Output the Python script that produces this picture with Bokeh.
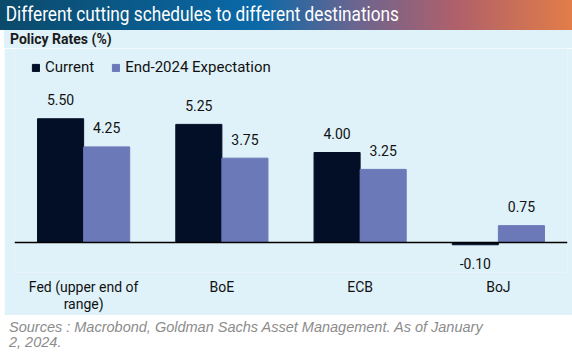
from bokeh.plotting import figure
from bokeh.models import (Div, ColumnDataSource, FactorRange, Span,
                          LabelSet, Legend, LegendItem, Range1d)
from bokeh.core.properties import value
from bokeh.layouts import column
from bokeh.transform import dodge
from bokeh.embed import file_html
from bokeh.resources import INLINE

# ---- data ----
categories = ["Fed (upper end of\nrange)", "BoE", "ECB", "BoJ"]
current = [5.50, 5.25, 4.00, -0.10]
expectation = [4.25, 3.75, 3.25, 0.75]
series_names = ["Current", "End-2024 Expectation"]

NAVY = "#030f27"
BLUE = "#6b79b9"
PANEL = "#dff2fa"
FONT = "Roboto"

src = ColumnDataSource(dict(
    cat=categories,
    current=current,
    expectation=expectation,
    cur_txt=[f"{v:.2f}" for v in current],
    exp_txt=[f"{v:.2f}" for v in expectation],
    cur_off=[19 if v >= 0 else -19 for v in current],
    exp_off=[19 if v >= 0 else -19 for v in expectation],
))

PX_PER_UNIT = 22.5
y_top = 194 / PX_PER_UNIT
y_bot = -30 / PX_PER_UNIT

p = figure(x_range=FactorRange(*categories), y_range=Range1d(y_bot, y_top),
           width=568, height=267, output_backend="svg", toolbar_location=None,
           min_border_left=10, min_border_right=5, min_border_top=0,
           min_border_bottom=43, background_fill_color=PANEL,
           border_fill_color=PANEL, outline_line_color=None,
           margin=(0, 0, 0, 4))

r1 = p.vbar(x=dodge("cat", -1/6, range=p.x_range), top="current", width=1/3,
            source=src, fill_color=NAVY, line_color=NAVY)
r2 = p.vbar(x=dodge("cat", 1/6, range=p.x_range), top="expectation", width=1/3,
            source=src, fill_color=BLUE, line_color=BLUE)

for col, txt, off in (("current", "cur_txt", "cur_off"),
                      ("expectation", "exp_txt", "exp_off")):
    shift = -1/6 if col == "current" else 1/6
    p.add_layout(LabelSet(x=dodge("cat", shift, range=p.x_range), y=col,
                          text=txt, y_offset=off, source=src,
                          text_align="center", text_baseline="middle",
                          text_font=value(FONT), text_font_size=value("14px"),
                          text_color="#111111"))

p.add_layout(Span(location=0, dimension="width", line_color="black", line_width=1.5))

p.xgrid.visible = False
p.ygrid.visible = False
p.yaxis.visible = False
xa = p.xaxis[0]
xa.axis_line_color = None
xa.major_tick_line_color = None
xa.minor_tick_line_color = None
xa.major_label_standoff = 0
xa.major_label_text_font = FONT
xa.major_label_text_font_size = "14px"
xa.major_label_text_color = "#111111"
xa.major_label_text_line_height = 1.1

legend = Legend(items=[LegendItem(label=series_names[0], renderers=[r1]),
                       LegendItem(label=series_names[1], renderers=[r2])],
                orientation="horizontal", location=(17, 196),
                glyph_width=9, glyph_height=9, label_standoff=5, spacing=17,
                padding=0, margin=0, label_height=14,
                label_text_font=FONT, label_text_font_size="15px",
                label_text_color="#111111", background_fill_alpha=0,
                border_line_color=None)
p.add_layout(legend)

title = Div(text='<div style="font-family: Roboto, sans-serif; font-size: 21px;'
                 ' color: white; padding-left: 7px; line-height: 28px; margin: 0;'
                 ' white-space: nowrap; transform: scaleX(0.82); transform-origin: 0 50%;">'
                 'Different cutting schedules to different destinations</div>',
            width=572, height=30, margin=0,
            styles={"background": "linear-gradient(90deg, #0b4a6a 0%, #0a69a8 45%, "
                                  "#6a6590 62%, #b0606a 80%, #e27d48 100%)",
                    "height": "30px", "overflow": "hidden"})

subtitle = Div(text='<div style="font-family: Roboto, sans-serif; font-size: 14px;'
                    ' font-weight: bold; color: #1a1a1a; padding-left: 6px;'
                    ' line-height: 18px; margin: 0; white-space: nowrap;">'
                    'Policy Rates (%)</div>',
               width=568, height=18, margin=(0, 0, 0, 4),
               styles={"background": PANEL, "height": "18px", "overflow": "hidden"})

sources = Div(text='<div style="font-family: Liberation Sans, Arial, sans-serif;'
                   ' font-style: italic; font-size: 14.5px; color: #8c8c8c;'
                   ' padding-left: 9px; padding-top: 5px; line-height: 15px; margin: 0;">'
                   'Sources : Macrobond, Goldman Sachs Asset Management. As of January<br>'
                   '2, 2024.</div>',
              width=572, height=42, margin=0,
              styles={"background": "white", "height": "42px", "overflow": "hidden"})

layout = column(title, subtitle, p, sources, spacing=0)
open("out.html", "w").write(file_html(layout, INLINE))
